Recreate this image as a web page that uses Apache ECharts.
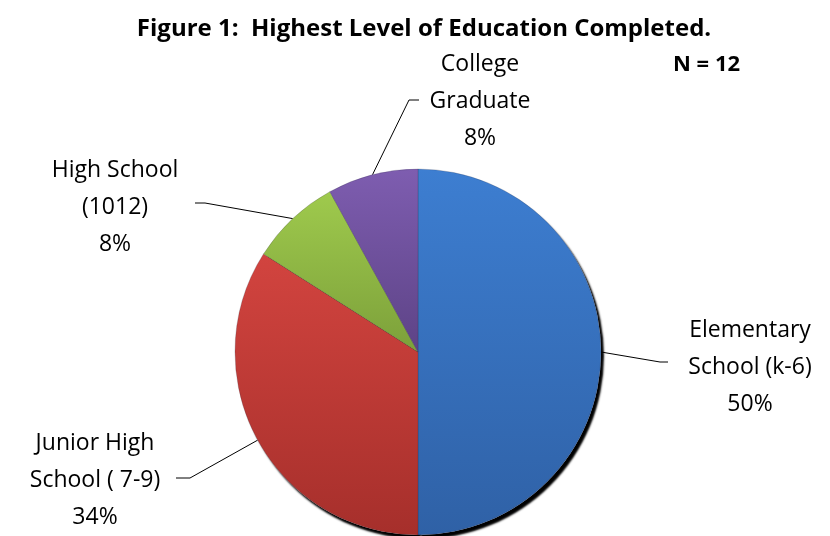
<!DOCTYPE html>
<html>
<head>
<meta charset="utf-8">
<script src="https://cdn.jsdelivr.net/npm/echarts@6/dist/echarts.min.js"></script>
<style>html,body{margin:0;padding:0;background:#fff;}#c{width:830px;height:536px;}</style>
</head>
<body>
<div id="c"></div>
<script>
const categories = ['Elementary\nSchool (k-6)', 'Junior High\nSchool ( 7-9)', 'High School\n(1012)', 'College\nGraduate'];
const values = [50, 34, 8, 8];
const topColors = ['#3D7ED1', '#D2443F', '#9FCA4D', '#7E5DB0'];
const bottomColors = ['#2F61A6', '#A62F2B', '#7CA03A', '#5D4386'];
const titleText = 'Figure 1:  Highest Level of Education Completed.';
const noteText = 'N = 12';

const chart = echarts.init(document.getElementById('c'));
const FONT = '"Open Sans", "Liberation Sans", sans-serif';

// label block centres and leader elbows (layout only)
const labelPos = [
  {x: 750, y: 367, elbow: [660, 362], end: [668, 362]},
  {x: 95, y: 480, elbow: [190, 478], end: [176, 478]},
  {x: 115, y: 207, elbow: [205, 203], end: [195, 203]},
  {x: 480, y: 101, elbow: [409, 100], end: [419, 100]}
];

const pieData = categories.map((c, i) => ({
  name: c,
  value: values[i],
  itemStyle: {
    color: new echarts.graphic.LinearGradient(0, 0, 0, 1, [
      {offset: 0, color: topColors[i]},
      {offset: 1, color: bottomColors[i]}
    ])
  }
}));

chart.setOption({
  animation: false,
  backgroundColor: '#fff',
  title: [{
    text: titleText,
    left: 419, top: 12, textAlign: 'center',
    textStyle: {fontFamily: FONT, fontWeight: 'bold', fontSize: 24, color: '#000'}
  }, {
    text: noteText,
    left: 668, top: 49,
    textStyle: {fontFamily: FONT, fontWeight: 'bold', fontSize: 22, color: '#000'}
  }],
  series: [{
    type: 'pie',
    silent: true,
    z: 1,
    center: [418, 352],
    radius: 183,
    startAngle: 90,
    clockwise: true,
    data: values.map(v => ({value: v})),
    label: {show: false},
    labelLine: {show: false},
    itemStyle: {
      color: '#fff',
      shadowColor: 'rgba(0,0,0,1)',
      shadowBlur: 2,
      shadowOffsetX: 3,
      shadowOffsetY: 4
    }
  }, {
    type: 'pie',
    z: 2,
    center: [418, 352],
    radius: 183,
    startAngle: 90,
    clockwise: true,
    data: pieData,
    itemStyle: {borderColor: 'rgba(40,40,60,0.35)', borderWidth: 0.6},
    label: {
      show: true,
      position: 'outside',
      formatter: '{b}\n{c}%',
      fontFamily: FONT,
      fontSize: 23,
      lineHeight: 37,
      color: '#000',
      align: 'center'
    },
    labelLine: {show: true, lineStyle: {color: '#000', width: 1}},
    labelLayout: function (params) {
      const p = labelPos[params.dataIndex];
      const start = params.labelLinePoints ? params.labelLinePoints[0] : p.elbow;
      return {
        x: p.x, y: p.y,
        align: 'center', verticalAlign: 'middle',
        labelLinePoints: [start, p.elbow, p.end]
      };
    }
  }]
});
</script>
</body>
</html>
